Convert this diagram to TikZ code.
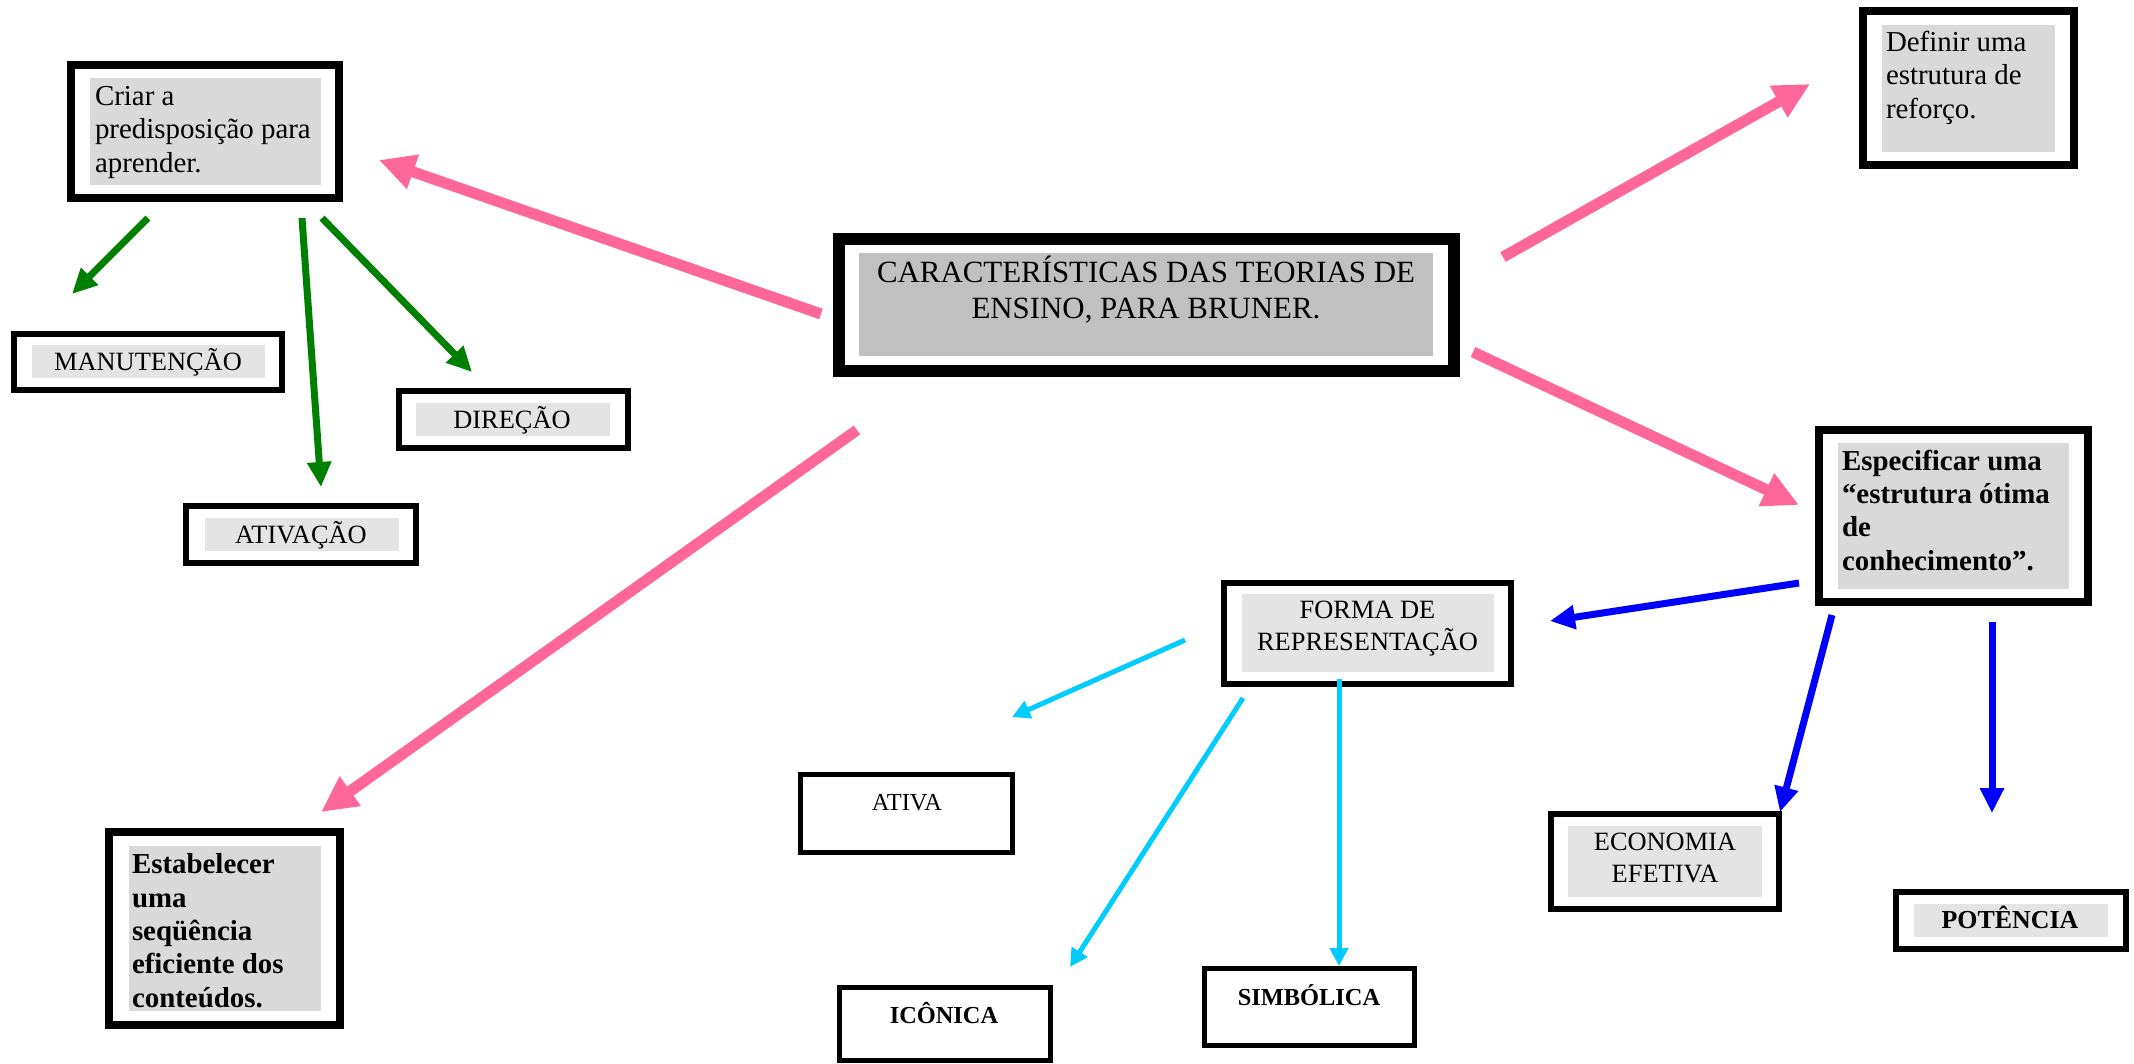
\documentclass[tikz,border=0pt]{standalone}
\usepackage{fontspec}
\setmainfont{Liberation Serif}
\usetikzlibrary{arrows.meta}
\definecolor{pinkA}{HTML}{FF6699}
\definecolor{greenA}{HTML}{008000}
\definecolor{blueA}{HTML}{0000FF}
\definecolor{cyanA}{HTML}{00CCFF}
\definecolor{grayD}{HTML}{C0C0C0}
\definecolor{grayM}{HTML}{D9D9D9}
\definecolor{grayL}{HTML}{E4E4E4}
\begin{document}
\begin{tikzpicture}[x=1bp,y=-1bp,
  obox/.style={draw=black, inner sep=0pt, outer sep=0pt},
  gbox/.style={inner sep=0pt, outer sep=0pt, anchor=north west},
  txt/.style={inner sep=0pt, outer sep=0pt},
  fbig/.style={font=\fontsize{29}{33.5}\selectfont},
  fbigb/.style={font=\fontsize{29}{33.4}\selectfont\bfseries},
  fmid/.style={font=\fontsize{26.5}{32}\selectfont},
  fmidb/.style={font=\fontsize{26}{32}\selectfont\bfseries},
  fsml/.style={font=\fontsize{24.5}{30}\selectfont},
  fsmlb/.style={font=\fontsize{24.5}{30}\selectfont\bfseries},
  pinkarrow/.style={draw=pinkA, line width=11bp, -{Triangle[length=36bp,width=34bp]}},
  greenarrow/.style={draw=greenA, line width=7bp, -{Triangle[length=25bp,width=23bp]}},
  bluearrow/.style={draw=blueA, line width=7bp, -{Triangle[length=25bp,width=23bp]}},
  cyanarrow/.style={draw=cyanA, line width=5bp, -{Triangle[length=18bp,width=18bp]}},
]
\useasboundingbox (0,0) rectangle (2134,1064);

% ---- central title (anchor = baseline of last line)
\node[obox, line width=12bp, minimum width=615bp, minimum height=132bp] (title) at (1146.5,305) {};
\node[gbox, fill=grayD, minimum width=574bp, minimum height=103bp] (titleG) at (859,253) {};
\node[txt, font=\fontsize{31}{36}\selectfont, align=center, anchor=base] (titleT) at (1146,318)
  {CARACTERÍSTICAS DAS TEORIAS DE\\ENSINO, PARA BRUNER.};

% ---- Criar a predisposição
\node[obox, line width=8bp, minimum width=268bp, minimum height=133bp] (criar) at (205,131.5) {};
\node[gbox, fill=grayM, minimum width=231bp, minimum height=107bp] (criarG) at (90,78) {};
\node[txt, fbig, align=left, anchor=base west] (criarT) at (95,172)
  {Criar a\\predisposição para\\aprender.};

% ---- MANUTENÇÃO
\node[obox, line width=6bp, minimum width=268bp, minimum height=56bp] (manut) at (148,362) {};
\node[gbox, fill=grayL, minimum width=233bp, minimum height=33bp] (manutG) at (32,345) {};
\node[txt, fmid, anchor=base] (manutT) at (148,370) {MANUTENÇÃO};

% ---- DIREÇÃO
\node[obox, line width=6bp, minimum width=229bp, minimum height=57bp] (direcao) at (513.5,419.5) {};
\node[gbox, fill=grayL, minimum width=194bp, minimum height=33bp] (direcaoG) at (416,403) {};
\node[txt, fmid, anchor=base] (direcaoT) at (512,428) {DIREÇÃO};

% ---- ATIVAÇÃO
\node[obox, line width=6bp, minimum width=230bp, minimum height=57bp] (ativacao) at (301,534.5) {};
\node[gbox, fill=grayL, minimum width=194bp, minimum height=33bp] (ativacaoG) at (205,518) {};
\node[txt, fmid, anchor=base] (ativacaoT) at (301,543) {ATIVAÇÃO};

% ---- Definir
\node[obox, line width=8bp, minimum width=211bp, minimum height=154bp] (definir) at (1968.5,88) {};
\node[gbox, fill=grayM, minimum width=173bp, minimum height=127bp] (definirG) at (1882,25) {};
\node[txt, fbig, align=left, anchor=base west] (definirT) at (1886,118)
  {Definir uma\\estrutura de\\reforço.};

% ---- Especificar
\node[obox, line width=8bp, minimum width=269bp, minimum height=172bp] (espec) at (1953.5,516) {};
\node[gbox, fill=grayM, minimum width=231bp, minimum height=146bp] (especG) at (1838,443) {};
\node[txt, fbigb, align=left, anchor=base west] (especT) at (1842,570)
  {Especificar uma\\“estrutura ótima\\de\\conhecimento”.};

% ---- FORMA DE REPRESENTAÇÃO
\node[obox, line width=6bp, minimum width=287bp, minimum height=101bp] (forma) at (1367.5,633.5) {};
\node[gbox, fill=grayL, minimum width=252bp, minimum height=78bp] (formaG) at (1242,594) {};
\node[txt, fmid, align=center, anchor=base] (formaT) at (1367.5,650)
  {FORMA DE\\REPRESENTAÇÃO};

% ---- Estabelecer
\node[obox, line width=8bp, minimum width=231bp, minimum height=193bp] (estab) at (224.5,928.5) {};
\node[gbox, fill=grayM, minimum width=192bp, minimum height=165bp] (estabG) at (129,846) {};
\node[txt, fbigb, align=left, anchor=base west] (estabT) at (132,1007)
  {Estabelecer\\uma\\seqüência\\eficiente dos\\conteúdos.};

% ---- ATIVA / ICÔNICA / SIMBÓLICA
\node[obox, line width=5bp, minimum width=212bp, minimum height=78bp] (ativa) at (906.5,813.5) {};
\node[txt, fsml, anchor=base] (ativaT) at (907,810) {ATIVA};
\node[obox, line width=5bp, minimum width=211bp, minimum height=73bp] (iconica) at (945,1024) {};
\node[txt, fsmlb, anchor=base] (iconicaT) at (944,1023) {ICÔNICA};
\node[obox, line width=5bp, minimum width=210bp, minimum height=77bp] (simbolica) at (1309.5,1007) {};
\node[txt, fsmlb, anchor=base] (simbolicaT) at (1309,1005) {SIMBÓLICA};

% ---- ECONOMIA EFETIVA
\node[obox, line width=6bp, minimum width=228bp, minimum height=95bp] (econ) at (1665,861.5) {};
\node[gbox, fill=grayL, minimum width=194bp, minimum height=71bp] (econG) at (1568,826) {};
\node[txt, fmid, align=center, anchor=base] (econT) at (1665,882) {ECONOMIA\\EFETIVA};

% ---- POTÊNCIA
\node[obox, line width=6bp, minimum width=230bp, minimum height=57bp] (potencia) at (2011,920.5) {};
\node[gbox, fill=grayL, minimum width=194bp, minimum height=33bp] (potenciaG) at (1914,904) {};
\node[txt, fmidb, anchor=base] (potenciaT) at (2010,928) {POTÊNCIA};

% ---- connector end points
\coordinate (p1a) at (821,314);  \coordinate (p1b) at (379,160);
\coordinate (p2a) at (1503,257); \coordinate (p2b) at (1810,84);
\coordinate (p3a) at (1473,352); \coordinate (p3b) at (1799,505);
\coordinate (p4a) at (857,430);  \coordinate (p4b) at (321,812);
\coordinate (g1a) at (148,218);  \coordinate (g1b) at (72,294);
\coordinate (g2a) at (302,218);  \coordinate (g2b) at (321,487);
\coordinate (g3a) at (322,218);  \coordinate (g3b) at (472,372);
\coordinate (b1a) at (1799,583); \coordinate (b1b) at (1550,621);
\coordinate (b2a) at (1832,615); \coordinate (b2b) at (1780,812);
\coordinate (b3a) at (1992,622); \coordinate (b3b) at (1992,813);
\coordinate (c1a) at (1185,640); \coordinate (c1b) at (1012,717);
\coordinate (c2a) at (1243,698); \coordinate (c2b) at (1070,967);
\coordinate (c3a) at (1339,679); \coordinate (c3b) at (1339,966);

% ---- connectors
\draw[pinkarrow] (p1a) -- (p1b);
\draw[pinkarrow] (p2a) -- (p2b);
\draw[pinkarrow] (p3a) -- (p3b);
\draw[pinkarrow] (p4a) -- (p4b);
\draw[greenarrow] (g1a) -- (g1b);
\draw[greenarrow] (g2a) -- (g2b);
\draw[greenarrow] (g3a) -- (g3b);
\draw[bluearrow] (b1a) -- (b1b);
\draw[bluearrow] (b2a) -- (b2b);
\draw[bluearrow] (b3a) -- (b3b);
\draw[cyanarrow] (c1a) -- (c1b);
\draw[cyanarrow] (c2a) -- (c2b);
\draw[cyanarrow] (c3a) -- (c3b);
\end{tikzpicture}
\end{document}
